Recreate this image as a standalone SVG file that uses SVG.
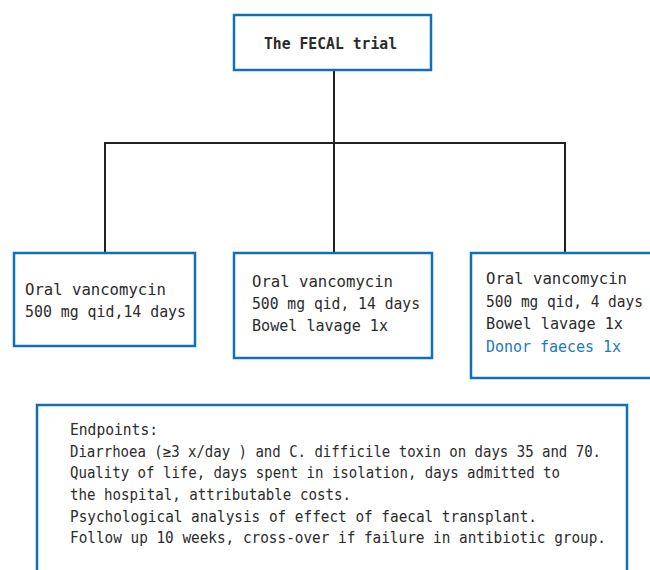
<svg xmlns="http://www.w3.org/2000/svg" width="650" height="570" viewBox="0 0 650 570">
<style>
.box{fill:#fff;stroke:#1170b5;stroke-width:2.5}
.t{font-family:"DejaVu Sans Mono","Liberation Mono",monospace;font-size:16px;fill:#2b2b2b}
.b{font-weight:bold}
.blue{fill:#2079bd}
.c{fill:none;stroke:#222;stroke-width:2}
</style>
<rect width="650" height="570" fill="#fff"/>
<g id="connectors">
<path class="c" d="M334 70V143M105 253V143H565V253M334 143V253"/>
</g>
<g id="title">
<rect class="box" x="234" y="15" width="197" height="55"/>
<text class="t b" x="264" y="49" textLength="133" lengthAdjust="spacingAndGlyphs">The FECAL trial</text>
</g>
<g id="arm1">
<rect class="box" x="14" y="253" width="181" height="93"/>
<text class="t" x="25" y="295" textLength="141" lengthAdjust="spacingAndGlyphs">Oral vancomycin</text>
<text class="t" x="25" y="317" textLength="161" lengthAdjust="spacingAndGlyphs">500 mg qid,14 days</text>
</g>
<g id="arm2">
<rect class="box" x="234" y="253" width="198" height="105"/>
<text class="t" x="252" y="287" textLength="141" lengthAdjust="spacingAndGlyphs">Oral vancomycin</text>
<text class="t" x="252" y="309" textLength="168" lengthAdjust="spacingAndGlyphs">500 mg qid, 14 days</text>
<text class="t" x="252" y="331" textLength="136" lengthAdjust="spacingAndGlyphs">Bowel lavage 1x</text>
</g>
<g id="arm3">
<rect class="box" x="471" y="253" width="200" height="125"/>
<text class="t" x="486" y="284" textLength="141" lengthAdjust="spacingAndGlyphs">Oral vancomycin</text>
<text class="t" x="486" y="307" textLength="157" lengthAdjust="spacingAndGlyphs">500 mg qid, 4 days</text>
<text class="t" x="486" y="329" textLength="137" lengthAdjust="spacingAndGlyphs">Bowel lavage 1x</text>
<text class="t blue" x="486" y="352" textLength="135" lengthAdjust="spacingAndGlyphs">Donor faeces 1x</text>
</g>
<g id="endpoints">
<rect class="box" x="37" y="405" width="590" height="180"/>
<text class="t" x="70" y="435" textLength="88" lengthAdjust="spacingAndGlyphs">Endpoints:</text>
<text class="t" x="70" y="457" textLength="531" lengthAdjust="spacingAndGlyphs">Diarrhoea (≥3 x/day ) and C. difficile toxin on days 35 and 70.</text>
<text class="t" x="70" y="478" textLength="490" lengthAdjust="spacingAndGlyphs">Quality of life, days spent in isolation, days admitted to</text>
<text class="t" x="70" y="500" textLength="281" lengthAdjust="spacingAndGlyphs">the hospital, attributable costs.</text>
<text class="t" x="70" y="522" textLength="467" lengthAdjust="spacingAndGlyphs">Psychological analysis of effect of faecal transplant.</text>
<text class="t" x="70" y="543" textLength="536" lengthAdjust="spacingAndGlyphs">Follow up 10 weeks, cross-over if failure in antibiotic group.</text>
</g>
</svg>
